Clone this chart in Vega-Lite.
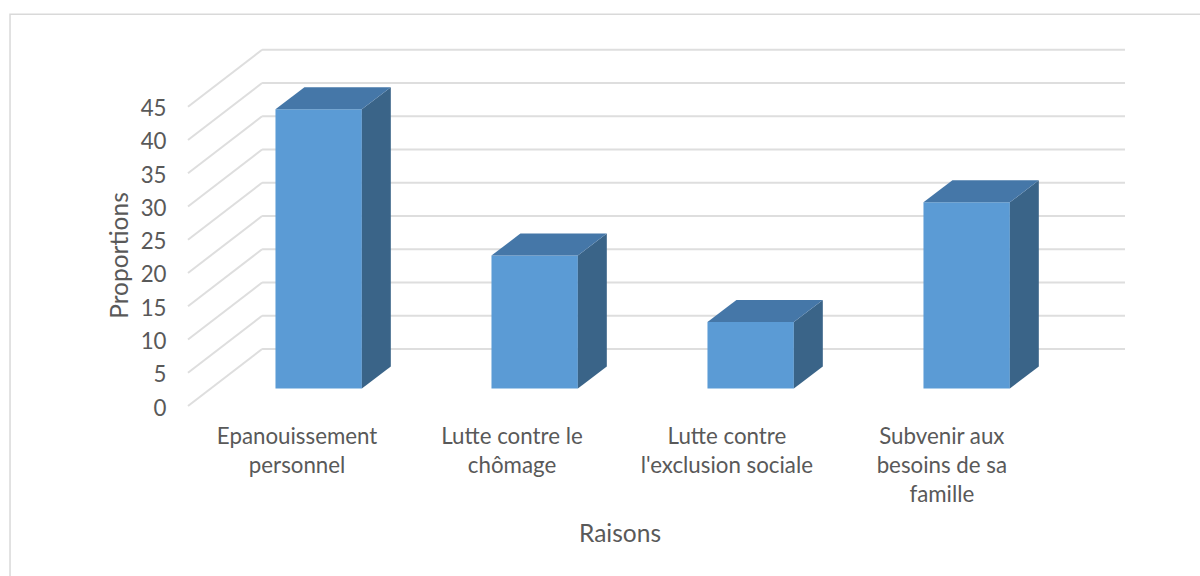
{
"$schema":"https://vega.github.io/schema/vega-lite/v6.json",
"width":937,"height":356,
"autosize":{"type":"none"},
"padding":{"left":188,"top":50,"right":75,"bottom":170},
"background":"white",
"config":{"view":{"stroke":null},"font":"Lato"},
"datasets":{
"raisons":[
{"raison":"Epanouissement personnel","etiquette":"Epanouissement|personnel","proportion":42},
{"raison":"Lutte contre le chômage","etiquette":"Lutte contre le|chômage","proportion":20},
{"raison":"Lutte contre l'exclusion sociale","etiquette":"Lutte contre|l'exclusion sociale","proportion":10},
{"raison":"Subvenir aux besoins de sa famille","etiquette":"Subvenir aux|besoins de sa|famille","proportion":28}
],
"graduations":[{"v":0},{"v":5},{"v":10},{"v":15},{"v":20},{"v":25},{"v":30},{"v":35},{"v":40},{"v":45}],
"cadre":[{"x0":-0.824,"x1":6,"y0":-30,"y1":58.9}]
},
"layer":[
{"data":{"name":"cadre"},"mark":{"type":"rect","fill":null,"stroke":"#D9D9D9","strokeWidth":1.5,"clip":false},
"encoding":{"x":{"field":"x0","type":"quantitative","scale":{"domain":[0,4.338],"nice":false,"zero":false},"axis":{"values":[],"domain":false,"ticks":false,"grid":false,"title":"Raisons","titleFontSize":24.5,"titleFontWeight":"normal","titleColor":"#595959","titlePadding":116,"titleX":431.5,"labels":false}},"x2":{"field":"x1"},
"y":{"field":"y0","type":"quantitative","scale":{"domain":[0,53.53],"nice":false,"zero":false},"axis":{"values":[0,5,10,15,20,25,30,35,40,45],"tickCount":12,"domain":false,"ticks":false,"grid":false,"labelFontSize":22.3,"labelColor":"#595959","labelPadding":22,"labelOverlap":false,"labelOffset":2,"title":"Proportions","titleFontSize":24.5,"titleFontWeight":"normal","titleColor":"#595959","titlePadding":8,"titleY":205}},"y2":{"field":"y1"}}},
{"data":{"name":"graduations"},"transform":[{"calculate":"datum.v+8.57","as":"v2"},{"calculate":"0.343","as":"xa"},{"calculate":"4.338","as":"xb"}],"mark":{"type":"rule","color":"#DEDEDE","strokeWidth":2},
"encoding":{"x":{"field":"xa","type":"quantitative"},"x2":{"field":"xb"},"y":{"field":"v2","type":"quantitative"}}},
{"data":{"name":"graduations"},"transform":[{"calculate":"datum.v+8.57","as":"v2"},{"calculate":"0","as":"xa"},{"calculate":"0.343","as":"xb"}],"mark":{"type":"rule","color":"#DEDEDE","strokeWidth":2},
"encoding":{"x":{"field":"xa","type":"quantitative"},"x2":{"field":"xb"},"y":{"field":"v","type":"quantitative"},"y2":{"field":"v2"}}},
{"data":{"name":"raisons"},
"transform":[{"window":[{"op":"row_number","as":"rang"}]},{"calculate":"datum.rang-1+0.405","as":"gauche"},{"calculate":"datum.gauche+0.4","as":"droite"},{"calculate":"2.63","as":"socle"},{"calculate":"2.63+datum.proportion","as":"haut"}],
"layer":[
{"mark":{"type":"rect","fill":"#5B9BD5"},
"encoding":{"x":{"field":"gauche","type":"quantitative"},"x2":{"field":"droite"},"y":{"field":"socle","type":"quantitative"},"y2":{"field":"haut"}}},
{"transform":[{"calculate":"[0,1]","as":"t"},{"flatten":["t"]},{"calculate":"datum.droite+datum.t*0.134","as":"px"},{"calculate":"2.63+datum.t*3.3","as":"bas"},{"calculate":"datum.haut+datum.t*3.3","as":"sommet"}],
"mark":{"type":"area","fill":"#3A6488","orient":"vertical"},
"encoding":{"detail":{"field":"raison","type":"nominal"},"x":{"field":"px","type":"quantitative"},"y":{"field":"sommet","type":"quantitative"},"y2":{"field":"bas"}}},
{"transform":[{"calculate":"[0,0.134,0.4,0.534]","as":"s"},{"flatten":["s"]},{"calculate":"datum.gauche+datum.s","as":"px"},{"calculate":"datum.haut+min(datum.s/0.134,1)*3.3","as":"sup"},{"calculate":"datum.haut+max(0,(datum.s-0.4)/0.134)*3.3","as":"inf"}],
"mark":{"type":"area","fill":"#4577A8","orient":"vertical"},
"encoding":{"detail":{"field":"raison","type":"nominal"},"x":{"field":"px","type":"quantitative"},"y":{"field":"sup","type":"quantitative"},"y2":{"field":"inf"}}},
{"transform":[{"calculate":"split(datum.etiquette,'|')","as":"lignes"},{"calculate":"(datum.rang-1)*0.995+0.505","as":"centre"},{"calculate":"0","as":"zero"}],
"mark":{"type":"text","fontSize":22.3,"color":"#595959","baseline":"top","lineHeight":29,"align":"center","yOffset":20},
"encoding":{"x":{"field":"centre","type":"quantitative"},"y":{"field":"zero","type":"quantitative"},"text":{"field":"lignes","type":"nominal"}}}
]}
]
}
